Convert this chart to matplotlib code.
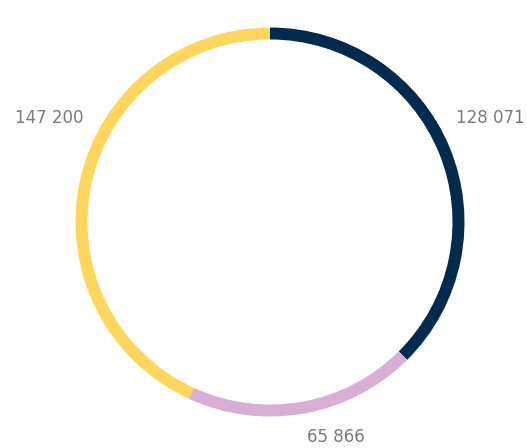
import matplotlib

matplotlib.use("Agg")

import matplotlib.pyplot as plt  # noqa: E402

# ── data ──────────────────────────────────────────────
values = [128071, 65866, 147200]
labels = ["128 071", "65 866", "147 200"]
colors = ["#002A4E", "#D8AED5", "#FFD65C"]

# ── layout (pixel space, y up) ────────────────────────
W, H = 527, 448
CX, CY = 270, H - 222
RADIUS = 194.5
RING = 12
label_pos = [(490, H - 118), (336, H - 437), (49, H - 118)]

fig = plt.figure(figsize=(W / 100, H / 100), dpi=100)
ax = fig.add_axes([0, 0, 1, 1])

ax.pie(
    values,
    colors=colors,
    startangle=90,
    counterclock=False,
    center=(CX, CY),
    radius=RADIUS,
    wedgeprops={"width": RING, "linewidth": 0},
    frame=True,
)
ax.set_xlim(0, W)
ax.set_ylim(0, H)
ax.set_aspect("equal")
ax.axis("off")

for text, (x, y) in zip(labels, label_pos):
    ax.text(x, y, text, ha="center", va="center", fontsize=12, color="#7a7a7a")

fig.savefig("out.png", dpi=100)
